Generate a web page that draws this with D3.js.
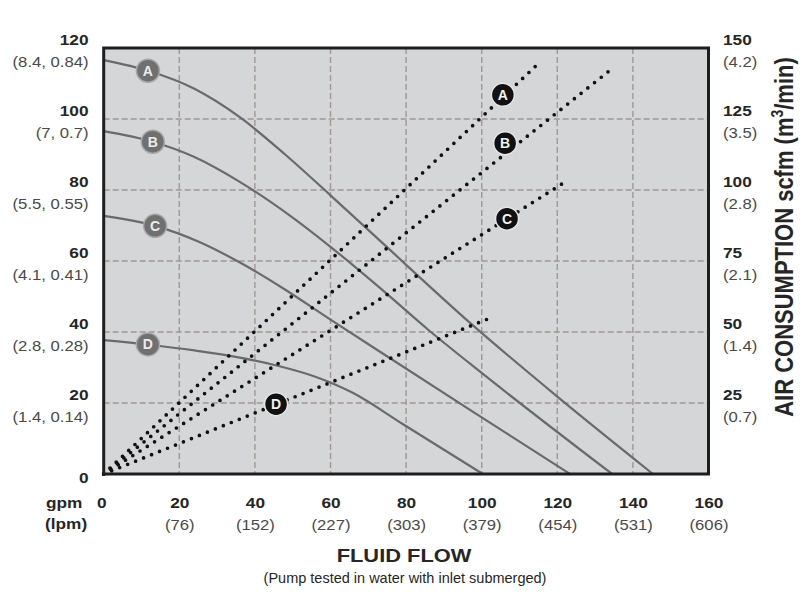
<!DOCTYPE html>
<html>
<head>
<meta charset="utf-8">
<script src="https://cdn.jsdelivr.net/npm/d3@7"></script>
<style>
  html, body { margin: 0; padding: 0; background: #ffffff; }
  svg { display: block; }
  text { font-family: "Liberation Sans", Arial, Helvetica, sans-serif; fill: #262626; }
</style>
</head>
<body>
<svg id="chart" width="808" height="592"></svg>
<script>
// ---------- data ----------
const gpmTicks = [0, 20, 40, 60, 80, 100, 120, 140, 160];
const lpmLabels = ["", "(76)", "(152)", "(227)", "(303)", "(379)", "(454)", "(531)", "(606)"];
const psiTicks = [0, 20, 40, 60, 80, 100, 120];
const barLabels = ["", "(1.4, 0.14)", "(2.8, 0.28)", "(4.1, 0.41)", "(5.5, 0.55)", "(7, 0.7)", "(8.4, 0.84)"];
const scfmTicks = [25, 50, 75, 100, 125, 150];
const m3Labels = ["(0.7)", "(1.4)", "(2.1)", "(2.8)", "(3.5)", "(4.2)"];
const curveNames = ["A", "B", "C", "D"];

// discharge pressure curves (gpm, psi)
const headA = [[0,116.6],[12,113.5],[24,108.5],[36,100.5],[48,90],[60,78.5],[73,65.8],[97,42.5],[120,21.8],[145.3,0]];
const headB = [[0,96.6],[13,93.6],[24,89.3],[36,82.3],[49,73],[60,64],[73,52.5],[86,40.5],[97,31],[134.5,0]];
const headC = [[0,72.7],[13.6,69.9],[25,65.5],[37,59],[47,52.6],[60,43.5],[73,34.5],[97,18],[123.4,0]];
const headD = [[0,37.7],[12,36.4],[24,34.8],[36,32.8],[46,30.5],[56,27.4],[66,22.8],[79.2,14],[100.3,0]];

// air consumption lines (gpm, scfm)
const airA = [[0,0],[114.9,144.4]];
const airB = [[0,0],[133.7,141.9]];
const airC = [[0,0],[122,102.8]];
const airD = [[0,0],[102.2,54.9]];

// label anchor positions
const headLabelGpm = [11.7, 13, 13.6, 11.7];
const headLabelPsi = [113.6, 93.6, 69.9, 36.5];
const airLabelGpm = [105.6, 106.2, 106.7, 45.6];
const airLabelScfm = [133.5, 116.5, 89.9, 24.6];

// ---------- layout ----------
const SX = 1.15; // horizontal text stretch
const svg = d3.select("#chart");
const x = d3.scaleLinear().domain([0, 160]).range([103.7, 708.5]);
const y = d3.scaleLinear().domain([0, 120]).range([474, 48]);
const yR = d3.scaleLinear().domain([0, 150]).range([474, 48]);

// plot background
svg.append("rect")
  .attr("x", x(0)).attr("y", y(120))
  .attr("width", x(160) - x(0)).attr("height", y(0) - y(120))
  .attr("fill", "#d4d6d8");

// grid
const grid = svg.append("g").attr("stroke", "#9f9893").attr("stroke-width", 1.4)
  .attr("stroke-dasharray", "6,3");
grid.selectAll("line.v").data(gpmTicks.filter(d => d > 0 && d < 160)).join("line")
  .attr("x1", d => x(d)).attr("x2", d => x(d)).attr("y1", y(120)).attr("y2", y(0));
grid.selectAll("line.h").data(psiTicks.filter(d => d > 0 && d < 120)).join("line")
  .attr("x1", x(0)).attr("x2", x(160)).attr("y1", d => y(d)).attr("y2", d => y(d));

// head curves
const heads = [headA, headB, headC, headD];
const lineHead = d3.line().x(d => x(d[0])).y(d => y(d[1])).curve(d3.curveMonotoneX);
svg.append("g").selectAll("path").data(heads).join("path")
  .attr("d", lineHead).attr("fill", "none").attr("stroke", "#6a6a6a").attr("stroke-width", 2.2);

// air lines
const airs = [airA, airB, airC, airD];
const lineAir = d3.line().x(d => x(d[0])).y(d => yR(d[1]));
svg.append("g").selectAll("path").data(airs).join("path")
  .attr("d", lineAir).attr("fill", "none").attr("stroke", "#111")
  .attr("stroke-width", 3.7).attr("stroke-linecap", "round").attr("stroke-dasharray", "0,8.6");

// frame
svg.append("rect")
  .attr("x", x(0)).attr("y", y(120))
  .attr("width", x(160) - x(0)).attr("height", y(0) - y(120))
  .attr("fill", "none").attr("stroke", "#1e1e1e").attr("stroke-width", 3);

// head labels (gray)
const hl = svg.append("g").selectAll("g").data(curveNames).join("g")
  .attr("transform", (d, i) => `translate(${x(headLabelGpm[i])},${y(headLabelPsi[i])})`);
hl.append("circle").attr("r", 11.5).attr("fill", "#707070").attr("stroke", "#a8a8a8").attr("stroke-width", 1.5);
hl.append("text").text(d => d).attr("text-anchor", "middle").attr("dy", "0.36em")
  .attr("font-size", 14).attr("font-weight", "bold").style("fill", "#ececec");

// air labels (black)
const al = svg.append("g").selectAll("g").data(curveNames).join("g")
  .attr("transform", (d, i) => `translate(${x(airLabelGpm[i])},${yR(airLabelScfm[i])})`);
al.append("circle").attr("r", 11.5).attr("fill", "#111").attr("stroke", "#e6e6e6").attr("stroke-width", 1.5);
al.append("text").text(d => d).attr("text-anchor", "middle").attr("dy", "0.36em")
  .attr("font-size", 14).attr("font-weight", "bold").style("fill", "#f2f2f2");

// ---------- axes ----------
// left
const gL = svg.append("g").attr("transform", "translate(88.5,0)")
  .call(d3.axisLeft(y).tickValues(psiTicks).tickSize(0).tickPadding(0));
gL.select(".domain").remove();
gL.selectAll(".tick text").each(function(d, i) {
  const t = d3.select(this).attr("dy", null).attr("x", 0).text(null).attr("transform", `scale(${SX},1)`);
  if (d === 0) {
    t.append("tspan").attr("x", 0).attr("y", 8).attr("font-weight", "bold").attr("font-size", 15).text("0");
  } else {
    t.append("tspan").attr("x", 0).attr("y", -4).attr("font-weight", "bold").attr("font-size", 15).text(d);
    t.append("tspan").attr("x", 0).attr("y", 19).attr("font-size", 14.5).style("fill", "#4a4a4a").text(barLabels[i]);
  }
});

// right
const gR = svg.append("g").attr("transform", "translate(723,0)")
  .call(d3.axisRight(yR).tickValues(scfmTicks).tickSize(0).tickPadding(0));
gR.select(".domain").remove();
gR.selectAll(".tick text").each(function(d, i) {
  const t = d3.select(this).attr("dy", null).attr("x", 0).text(null).attr("text-anchor", "start")
    .attr("transform", `scale(${SX},1)`);
  t.append("tspan").attr("x", 0).attr("y", -4).attr("font-weight", "bold").attr("font-size", 15).text(d);
  t.append("tspan").attr("x", 0).attr("y", 19).attr("font-size", 14.5).style("fill", "#4a4a4a").text(m3Labels[i]);
});

// bottom
const gB = svg.append("g").attr("transform", `translate(0,${y(0)})`)
  .call(d3.axisBottom(x).tickValues(gpmTicks).tickSize(0).tickPadding(0));
gB.select(".domain").remove();
gB.selectAll(".tick text").each(function(d, i) {
  const t = d3.select(this).attr("dy", null).attr("y", 0).text(null).attr("transform", `scale(${SX},1)`);
  t.append("tspan").attr("x", d === 0 ? -2 : 0).attr("y", 34).attr("font-weight", "bold").attr("font-size", 15).text(d);
  if (lpmLabels[i]) t.append("tspan").attr("x", 0).attr("y", 56).attr("font-size", 14.5).style("fill", "#4a4a4a").text(lpmLabels[i]);
});

// unit labels
svg.append("text").attr("transform", `translate(46,508) scale(${SX},1)`)
  .attr("font-weight", "bold").attr("font-size", 15).text("gpm");
svg.append("text").attr("transform", `translate(45,529) scale(${SX},1)`)
  .attr("font-weight", "bold").attr("font-size", 15).text("(lpm)");

// titles
svg.append("text").attr("transform", `translate(404,562) scale(${SX},1)`).attr("text-anchor", "middle")
  .attr("font-weight", "bold").attr("font-size", 19).text("FLUID FLOW");
svg.append("text").attr("transform", `translate(405,583)`).attr("text-anchor", "middle")
  .attr("font-size", 14.5).text("(Pump tested in water with inlet submerged)");

const rt = svg.append("text").attr("transform", `translate(793,237) scale(${SX},1) rotate(-90)`)
  .attr("text-anchor", "middle").attr("font-weight", "bold").attr("font-size", 22);
rt.append("tspan").text("AIR CONSUMPTION scfm (m");
rt.append("tspan").attr("font-size", 14).attr("dy", -9).text("3");
rt.append("tspan").attr("dy", 9).text("/min)");
</script>
</body>
</html>
